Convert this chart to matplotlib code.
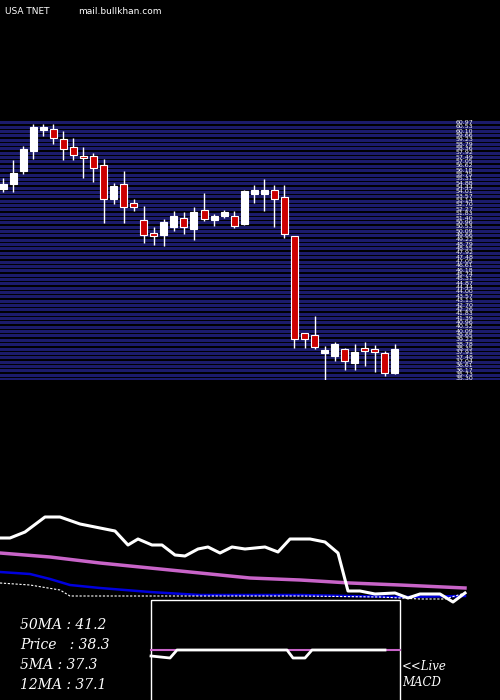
import matplotlib
matplotlib.use("Agg")
import matplotlib.pyplot as plt
import numpy as np

# candle data (open, close, high, low)
opens  = [54.3,54.8,56.1,58.1,60.2,60.3,59.3,58.5,57.6,57.6,56.7,53.3,54.8,52.9,51.2,49.8,49.7,50.5,51.4,50.3,
          52.2,51.2,51.6,51.6,50.8,53.8,53.8,54.2,53.5,49.6,39.9,39.7,37.9,37.6,38.3,36.9,38.3,38.2,37.9,35.9]
closes = [54.8,55.9,58.3,60.5,60.5,59.4,58.3,57.7,57.4,56.4,53.3,54.6,52.5,52.5,49.7,49.6,51.0,51.6,50.5,52.0,
          51.3,51.6,52.0,50.6,54.1,54.2,54.2,53.3,49.8,39.3,39.3,38.5,38.2,38.8,37.1,38.0,38.1,38.0,35.9,38.3]
highs  = [55.4,57.2,58.6,60.8,60.8,60.8,60.1,59.4,58.5,57.9,57.3,54.9,56.1,53.3,52.6,50.5,51.3,52.1,52.0,52.5,
          53.9,51.8,52.2,52.1,54.2,54.7,55.3,54.7,54.7,49.6,39.9,41.6,38.6,39.0,38.4,38.8,39.0,38.7,38.1,38.8]
lows   = [54.0,54.0,55.8,57.3,59.6,58.8,57.2,57.2,55.4,55.0,50.9,52.8,50.9,52.1,48.9,48.7,48.6,50.1,49.8,49.2,
          51.1,50.6,51.4,50.4,50.7,52.9,52.1,50.5,49.4,38.4,38.4,38.3,35.2,37.1,36.2,36.2,36.6,36.0,35.6,35.8]

# indicator lines (x position, level)
white_x = [0,10,25,45,60,80,95,115,128,138,152,162,175,185,198,208,220,232,245,265,278,290,310,325,338,348,360,375,395,408,420,440,453,465]
white_y = [538,538,532,517,517,524,527,531,545,539,545,545,555,556,549,547,553,547,549,547,552,539,539,542,553,591,591,594,593,598,594,594,602,593]
mag_x = [0,50,100,150,200,250,300,350,400,465]
mag_y = [553,557,563,568,573,578,580,583,585,588]
blue_x = [0,30,50,70,100,150,200,300,350,400,465]
blue_y = [572,574,579,585,588,592,595,595,596,597,596]
dot_x = [0,30,60,70,100,200,300,380,420,445,465]
dot_y = [583,585,590,596,596,596,596,597,599,599,593]
macd_x = [151,170,177,287,293,305,312,385]
macd_y = [656,658,650,650,658,658,650,650]

W, H = 500, 700
fig = plt.figure(figsize=(5, 7), dpi=100, facecolor="black")
base = fig.add_axes([0, 0, 1, 1])
base.set_xlim(0, W); base.set_ylim(H, 0); base.axis("off")
base.set_facecolor("black")

# candle axes: pixels 120..380
cax = fig.add_axes([0, 1 - 380 / H, 1, 260 / H])
cax.set_facecolor("black")
cax.set_xlim(-0.3, 49.45)
cax.set_ylim(35.2, 61.2)
cax.axis("off")
levels = np.arange(35.3, 61.2, 0.435)
for lv in levels:
    cax.axhline(lv, color="#1b1b6b", lw=2.2, zorder=0)
    cax.text(45.0, lv, "%.2f" % lv, color="white", fontsize=4.5, va="center", ha="left")
for i, (o, c, h, l) in enumerate(zip(opens, closes, highs, lows)):
    col = "white" if c >= o else "#cc0000"
    cax.vlines(i, l, h, color="white", lw=1, zorder=2)
    lo, hi = min(o, c), max(o, c)
    cax.bar(i, max(hi - lo, 0.25), bottom=lo, width=0.7, color=col, edgecolor="white", lw=0.8, zorder=3)

# indicators
base.plot(mag_x, mag_y, color="#c864c8", lw=2.5)
base.plot(blue_x, blue_y, color="#0000dd", lw=1.8)
base.plot(dot_x, dot_y, color="white", lw=0.8, ls=(0, (2, 1.5)))
base.plot(white_x, white_y, color="white", lw=2.2)

# MACD box
base.add_patch(plt.Rectangle((151, 600), 249, 105, fill=False, ec="white", lw=1))
base.plot([151, 400], [650, 650], color="#c864c8", lw=1.5)
base.plot(macd_x, macd_y, color="white", lw=2)
base.text(402, 666, "<<Live", color="white", fontsize=8.5, family="DejaVu Serif", style="italic", va="center")
base.text(402, 682, "MACD", color="white", fontsize=8.5, family="DejaVu Serif", style="italic", va="center")

labels = ["50MA : 41.2", "Price   : 38.3", "5MA : 37.3", "12MA : 37.1"]
for k, t in enumerate(labels):
    base.text(20, 625 + 20 * k, t, color="white", fontsize=10, family="DejaVu Serif", style="italic", va="center")

base.text(5, 11, "USA TNET", color="white", fontsize=6.5, va="center")
base.text(78, 11, "mail.bullkhan.com", color="white", fontsize=6.5, va="center")

fig.savefig("out.png", dpi=100, facecolor="black")
